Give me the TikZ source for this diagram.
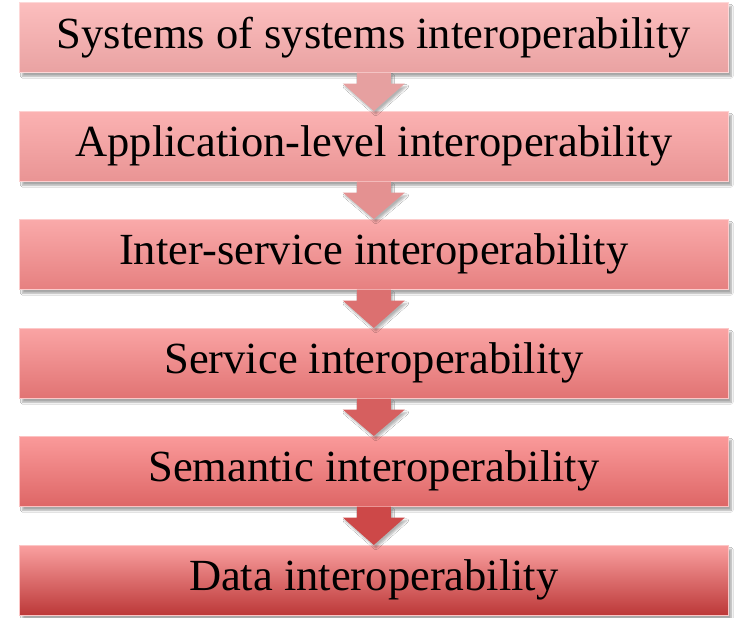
\documentclass[tikz,border=0pt]{standalone}
\usepackage{fontspec}
\setmainfont{Liberation Serif}
\usetikzlibrary{calc,shadows.blur}
\definecolor{t1}{RGB}{252,190,190}\definecolor{u1}{RGB}{233,162,162}
\definecolor{t2}{RGB}{251,178,178}\definecolor{u2}{RGB}{233,148,148}
\definecolor{t3}{RGB}{250,170,170}\definecolor{u3}{RGB}{230,128,128}
\definecolor{t4}{RGB}{250,164,164}\definecolor{u4}{RGB}{225,115,115}
\definecolor{t5}{RGB}{250,154,154}\definecolor{u5}{RGB}{222,102,102}
\definecolor{t6}{RGB}{250,160,160}\definecolor{u6}{RGB}{188,56,56}
\definecolor{a1}{RGB}{230,160,160}\definecolor{a2}{RGB}{228,145,145}
\definecolor{a3}{RGB}{220,112,112}\definecolor{a4}{RGB}{214,95,95}
\definecolor{a5}{RGB}{205,72,72}
\tikzset{
  levelbox/.style={draw=t#1!60!white, line width=0.6pt, top color=t#1, bottom color=u#1,
    minimum width=709pt, minimum height=70pt, inner sep=0pt, anchor=north west,
    font=\fontsize{44.5}{50}\selectfont,
    blur shadow={shadow xshift=3pt, shadow yshift=-4pt, shadow blur steps=6, shadow opacity=35}},
  downarrow/.style={fill=#1, draw=none,
    blur shadow={shadow xshift=2pt, shadow yshift=-3pt, shadow blur steps=5, shadow opacity=30}}
}
\begin{document}
\begin{tikzpicture}[x=1pt,y=1pt]
\useasboundingbox[fill=white] (0,0) rectangle (734,618);
\node[levelbox=1] (b1) at (19,616) {Systems of systems interoperability};
\node[levelbox=2] (b2) at (19,507) {Application-level interoperability};
\node[levelbox=3] (b3) at (19,399) {Inter-service interoperability};
\node[levelbox=4] (b4) at (19,290) {Service interoperability};
\node[levelbox=5] (b5) at (19,182) {Semantic interoperability};
\node[levelbox=6] (b6) at (19,73) {Data interoperability};
\foreach \a/\b/\c in {b1/b2/a1,b2/b3/a2,b3/b4/a3,b4/b5/a4,b5/b6/a5}{
  \fill[downarrow=\c]
    ($(\a.south)+(-17,0)$) -- ($(\a.south)+(-17,-11)$) -- ($(\a.south)+(-31,-11)$)
    -- (\b.north) -- ($(\a.south)+(31,-11)$) -- ($(\a.south)+(17,-11)$)
    -- ($(\a.south)+(17,0)$) -- cycle;
}
\end{tikzpicture}
\end{document}
